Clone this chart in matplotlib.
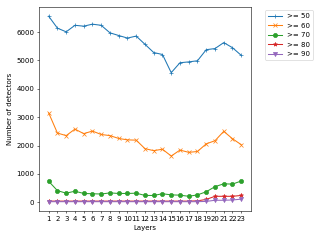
import matplotlib
matplotlib.use("Agg")
import matplotlib.pyplot as plt

layers = list(range(1, 24))
ge50 = [6560, 6140, 6010, 6240, 6210, 6280, 6240, 5975, 5880, 5790, 5860, 5570, 5280,
        5210, 4570, 4920, 4950, 4990, 5380, 5420, 5630, 5450, 5180]
ge60 = [3150, 2440, 2350, 2580, 2420, 2510, 2390, 2350, 2250, 2200, 2190, 1890, 1820,
        1870, 1630, 1840, 1760, 1790, 2060, 2170, 2500, 2240, 2030]
ge70 = [740, 410, 320, 390, 310, 300, 290, 330, 310, 310, 320, 240, 240,
        300, 260, 250, 210, 260, 370, 550, 650, 640, 750]
ge80 = [40, 40, 40, 40, 40, 40, 40, 40, 40, 40, 40, 40, 40,
        40, 40, 40, 40, 50, 100, 210, 210, 210, 240]
ge90 = [20, 20, 20, 20, 20, 20, 20, 20, 20, 20, 20, 20, 20,
        20, 20, 20, 20, 20, 30, 70, 70, 80, 110]
labels = [">= 50", ">= 60", ">= 70", ">= 80", ">= 90"]

fig = plt.figure(figsize=(6.4, 4.8), dpi=50)
ax = fig.add_axes([0.122, 0.121, 0.662, 0.85])
series = [ge50, ge60, ge70, ge80, ge90]
markers = ["+", "x", "o", "*", "v"]
for s, m, lab in zip(series, markers, labels):
    ax.plot(layers, s, marker=m, label=lab)
ax.set_xticks(layers)
ax.set_xlabel("Layers")
ax.set_ylabel("Number of detectors")
ax.legend(bbox_to_anchor=(1.05, 1), loc="upper left")
fig.savefig("out.png", dpi=50)
